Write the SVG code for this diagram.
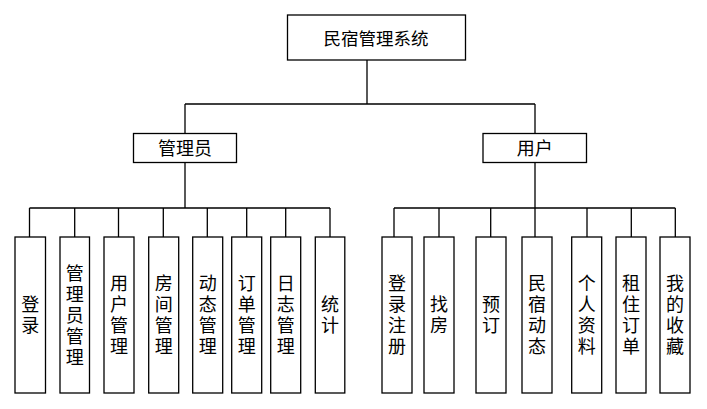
<svg xmlns="http://www.w3.org/2000/svg" width="707" height="409" viewBox="0 0 707 409">
<style>
.b{fill:#fff;stroke:#000;stroke-width:1.3}
.c{fill:none;stroke:#000;stroke-width:1.3}
.t{font-family:"Noto Sans CJK SC","Noto Sans",sans-serif;font-size:18px;fill:#000;text-anchor:middle}
.v{writing-mode:vertical-rl;letter-spacing:3px}
</style>
<rect width="707" height="409" fill="#fff"/>
<g id="connectors" class="c">
<path d="M367,60V104M185,104H535M185,104V133.5M535,104V133.5"/>
<path d="M185,163V208M29.5,208H330M29.5,208V237M74.7,208V237M118.5,208V237M163.3,208V237M207.3,208V237M246.7,208V237M285.7,208V237M330,208V237"/>
<path d="M535,163V208M394,208H675.3M394,208V237M439,208V237M490.7,208V237M535,208V237M587,208V237M631.3,208V237M675.3,208V237"/>
</g>
<g id="root"><rect class="b" x="287.5" y="15" width="178" height="45"/><text class="t" style="font-size:17.5px" x="376" y="44.5">民宿管理系统</text></g>
<g id="admin"><rect class="b" x="133.5" y="133.5" width="103" height="29"/><text class="t" x="185" y="154.5">管理员</text></g>
<g id="user"><rect class="b" x="483" y="133.5" width="103.5" height="29"/><text class="t" x="534.7" y="154.5">用户</text></g>

<g id="a1"><rect class="b" x="15" y="237" width="30.5" height="156"/><text class="t v" x="30.3" y="316.5">登录</text></g>
<g id="a2"><rect class="b" x="60" y="237" width="29.5" height="156"/><text class="t v" x="74.7" y="316.5">管理员管理</text></g>
<g id="a3"><rect class="b" x="104" y="237" width="30" height="156"/><text class="t v" x="119" y="316.5">用户管理</text></g>
<g id="a4"><rect class="b" x="148.7" y="237" width="30" height="156"/><text class="t v" x="163.7" y="316.5">房间管理</text></g>
<g id="a5"><rect class="b" x="192.7" y="237" width="30" height="156"/><text class="t v" x="207.7" y="316.5">动态管理</text></g>
<g id="a6"><rect class="b" x="231.7" y="237" width="30" height="156"/><text class="t v" x="246.7" y="316.5">订单管理</text></g>
<g id="a7"><rect class="b" x="270.7" y="237" width="30" height="156"/><text class="t v" x="285.7" y="316.5">日志管理</text></g>
<g id="a8"><rect class="b" x="315.3" y="237" width="29.5" height="156"/><text class="t v" x="330" y="316.5">统计</text></g>

<g id="u1"><rect class="b" x="382" y="237" width="30" height="156"/><text class="t v" x="397" y="316.5">登录注册</text></g>
<g id="u2"><rect class="b" x="424" y="237" width="30" height="156"/><text class="t v" x="439" y="316.5">找房</text></g>
<g id="u3"><rect class="b" x="476" y="237" width="30" height="156"/><text class="t v" x="491" y="316.5">预订</text></g>
<g id="u4"><rect class="b" x="522" y="237" width="30" height="156"/><text class="t v" x="537" y="316.5">民宿动态</text></g>
<g id="u5"><rect class="b" x="571.7" y="237" width="30" height="156"/><text class="t v" x="586.7" y="316.5">个人资料</text></g>
<g id="u6"><rect class="b" x="616" y="237" width="30" height="156"/><text class="t v" x="631" y="316.5">租住订单</text></g>
<g id="u7"><rect class="b" x="660" y="237" width="30" height="156"/><text class="t v" x="675" y="316.5">我的收藏</text></g>
</svg>
